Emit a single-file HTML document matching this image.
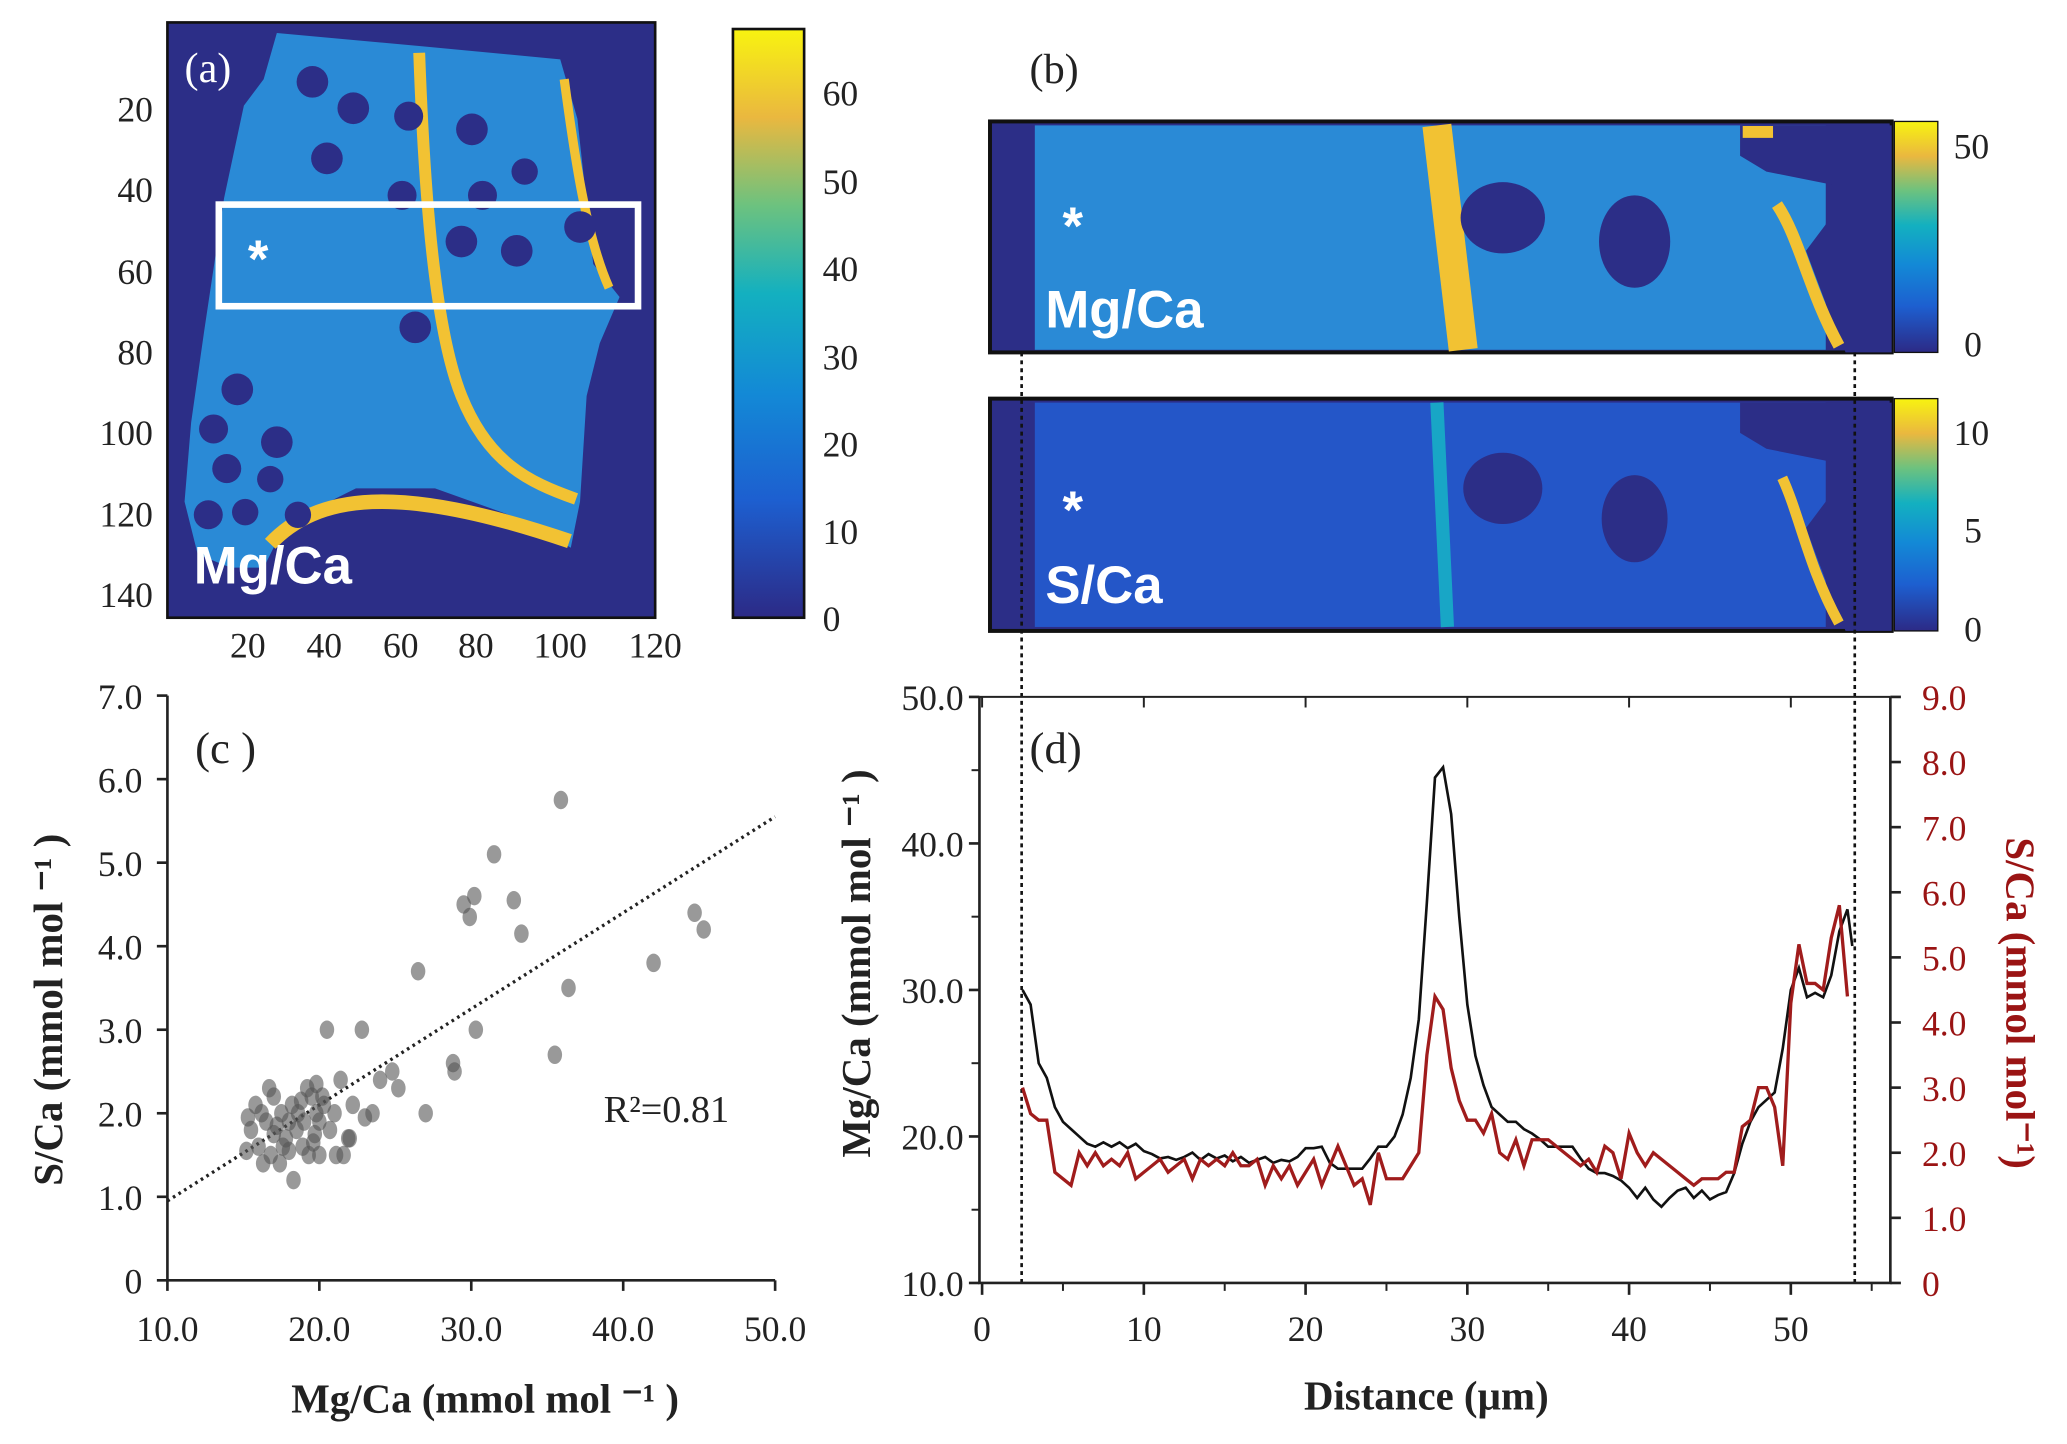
<!DOCTYPE html>
<html><head><meta charset="utf-8"><style>
html,body{margin:0;padding:0;background:#fff;}
svg{display:block;font-family:"Liberation Serif",serif;}
.t{font-size:27px;fill:#222;}
.lab{font-size:31px;font-weight:bold;fill:#222;}
.hm{font-family:"Liberation Sans Narrow","Liberation Sans",sans-serif;font-weight:bold;fill:#fff;font-size:40px;}
</style></head><body>
<svg id="fig" width="2067" height="1444" viewBox="0 0 1568 1094" preserveAspectRatio="none" xmlns="http://www.w3.org/2000/svg">
<defs>
<linearGradient id="parula" x1="0" y1="1" x2="0" y2="0">
<stop offset="0" stop-color="#2c2a86"/><stop offset="0.2" stop-color="#1d5fd0"/><stop offset="0.38" stop-color="#1389d6"/><stop offset="0.55" stop-color="#13b0c0"/><stop offset="0.7" stop-color="#6cc27f"/><stop offset="0.85" stop-color="#eab83f"/><stop offset="1" stop-color="#f8f310"/>
</linearGradient>
</defs>

<g>
<rect x="127" y="17" width="370" height="451" fill="#2c2e87" stroke="#111" stroke-width="2"/>
<polygon fill="#2a8ad6" points="210,25 320,35 425,45 438,90 450,200 470,225 455,260 445,300 440,380 433,415 400,395 330,370 270,370 240,385 215,400 200,430 175,430 150,420 140,380 145,320 155,250 170,150 185,80 200,60"/>
<path d="M318,40 C322,150 330,250 350,300 S400,365 437,378" fill="none" stroke="#f2c233" stroke-width="9"/>
<path d="M428,60 C436,120 445,180 462,218" fill="none" stroke="#f2c233" stroke-width="7"/>
<path d="M205,412 C240,375 300,365 432,410" fill="none" stroke="#f2c233" stroke-width="11"/>
<g fill="#2c2e87">
<circle cx="237" cy="62" r="12"/><circle cx="268" cy="82" r="12"/><circle cx="310" cy="88" r="11"/><circle cx="358" cy="98" r="12"/><circle cx="248" cy="120" r="12"/><circle cx="305" cy="148" r="11"/><circle cx="366" cy="148" r="11"/><circle cx="398" cy="130" r="10"/><circle cx="350" cy="183" r="12"/><circle cx="392" cy="190" r="12"/><circle cx="440" cy="172" r="12"/><circle cx="315" cy="248" r="12"/><circle cx="180" cy="295" r="12"/><circle cx="162" cy="325" r="11"/><circle cx="210" cy="335" r="12"/><circle cx="172" cy="355" r="11"/><circle cx="205" cy="363" r="10"/><circle cx="158" cy="390" r="11"/><circle cx="186" cy="388" r="10"/><circle cx="226" cy="390" r="10"/>
</g>
<rect x="166" y="155" width="318" height="77" fill="none" stroke="#fff" stroke-width="5"/>
<text x="140" y="62" class="t" style="fill:#fff;font-size:32px">(a)</text>
<text x="188" y="210" class="hm" font-size="44">*</text>
<text x="147" y="442" class="hm">Mg/Ca</text>
</g>
<g class="t" text-anchor="end">
<text x="116" y="92">20</text><text x="116" y="153">40</text><text x="116" y="215">60</text><text x="116" y="276">80</text><text x="116" y="337">100</text><text x="116" y="399">120</text><text x="116" y="460">140</text>
</g>
<g class="t" text-anchor="middle">
<text x="188" y="498">20</text><text x="246" y="498">40</text><text x="304" y="498">60</text><text x="361" y="498">80</text><text x="425" y="498">100</text><text x="497" y="498">120</text>
</g>
<g>
<rect x="556" y="22" width="54" height="446" fill="url(#parula)" stroke="#111" stroke-width="2"/>
<g class="t"><text x="624" y="478">0</text><text x="624" y="412">10</text><text x="624" y="346">20</text><text x="624" y="280">30</text><text x="624" y="213">40</text><text x="624" y="147">50</text><text x="624" y="80">60</text></g>
</g>

<text x="781" y="63" class="t" style="font-size:32px">(b)</text>
<g>
<rect x="751" y="92" width="684" height="175" fill="#2c2e87" stroke="#111" stroke-width="3"/>
<rect x="785" y="95" width="600" height="170" fill="#2a8ad6"/>
<path d="M1090,95 L1110,265" stroke="#f2c233" stroke-width="22"/>
<ellipse cx="1140" cy="165" rx="32" ry="27" fill="#2c2e87"/>
<ellipse cx="1240" cy="183" rx="27" ry="35" fill="#2c2e87"/>
<path d="M1320,95 L1435,95 L1435,267 L1400,267 L1385,230 L1370,190 L1385,170 L1390,140 L1340,130 L1320,118 Z" fill="#2c2e87"/>
<path d="M1322,100 L1345,100 M1348,155 C1365,180 1372,220 1395,262" stroke="#f2c233" stroke-width="9" fill="none"/>
<text x="806" y="185" class="hm" font-size="44">*</text>
<text x="793" y="248" class="hm">Mg/Ca</text>
</g>
<g>
<rect x="1437" y="92" width="33" height="175" fill="url(#parula)" stroke="#111" stroke-width="1"/>
<text x="1482" y="120" class="t">50</text><text x="1490" y="270" class="t">0</text>
</g>
<g>
<rect x="751" y="302" width="684" height="176" fill="#2c2e87" stroke="#111" stroke-width="3"/>
<rect x="785" y="305" width="600" height="170" fill="#2456c8"/>
<path d="M1090,305 L1098,475" stroke="#18a6c6" stroke-width="10"/>
<ellipse cx="1140" cy="370" rx="30" ry="27" fill="#2c2e87"/>
<ellipse cx="1240" cy="393" rx="25" ry="33" fill="#2c2e87"/>
<path d="M1320,305 L1435,305 L1435,478 L1400,478 L1385,440 L1370,400 L1385,380 L1390,350 L1340,340 L1320,328 Z" fill="#2c2e87"/>
<path d="M1352,362 C1365,390 1372,430 1395,472" stroke="#f2c233" stroke-width="8" fill="none"/>
<text x="806" y="400" class="hm" font-size="44">*</text>
<text x="793" y="457" class="hm">S/Ca</text>
</g>
<g>
<rect x="1437" y="302" width="33" height="176" fill="url(#parula)" stroke="#111" stroke-width="1"/>
<text x="1482" y="337" class="t">10</text><text x="1490" y="411" class="t">5</text><text x="1490" y="486" class="t">0</text>
</g>
<line x1="775" y1="267" x2="775" y2="972" stroke="#111" stroke-width="2" stroke-dasharray="3,3"/>
<line x1="1407" y1="267" x2="1407" y2="972" stroke="#111" stroke-width="2" stroke-dasharray="3,3"/>

<g id="pc"></g>
<g id="pd"></g>
</svg>
<script>
const scMg=[15.3,15.5,15.8,16,16.2,16.5,16.7,16.8,17,17.2,17.5,17.6,17.8,18,18.2,18.3,18.5,18.6,18.8,19,19.2,19.3,19.5,19.7,19.8,20,20,20.3,20.5,20.7,21,21.1,21.4,21.6,21.9,22.2,22.8,23.5,24,24.8,25.2,26.5,27,28.8,28.9,29.5,29.9,30.2,30.3,31.5,32.8,33.3,35.5,35.9,36.4,42,44.7,45.3,15.2,16.3,17,18,18.9,19.6,20.2,23,22,17.4,19.8];
const scS=[1.95,1.8,2.1,1.6,2.0,1.9,2.3,1.5,1.75,1.85,2.0,1.6,1.7,1.9,2.1,1.2,1.8,2.0,2.15,1.9,2.3,1.5,2.2,1.75,2.0,1.9,1.5,2.1,3.0,1.8,2.0,1.5,2.4,1.5,1.7,2.1,3.0,2.0,2.4,2.5,2.3,3.7,2.0,2.6,2.5,4.5,4.35,4.6,3.0,5.1,4.55,4.15,2.7,5.75,3.5,3.8,4.4,4.2,1.55,1.4,2.2,1.55,1.6,1.65,2.2,1.95,1.7,1.4,2.35];
const trend=[[10,0.95],[50,5.55]];
const cXTicks=[10,20,30,40,50];
const cYTicks=[0,1,2,3,4,5,6,7];

const dist=[2.5,3,3.5,4,4.5,5,5.5,6,6.5,7,7.5,8,8.5,9,9.5,10,10.5,11,11.5,12,12.5,13,13.5,14,14.5,15,15.5,16,16.5,17,17.5,18,18.5,19,19.5,20,20.5,21,21.5,22,22.5,23,23.5,24,24.5,25,25.5,26,26.5,27,27.5,28,28.5,29,29.5,30,30.5,31,31.5,32,32.5,33,33.5,34,34.5,35,35.5,36,36.5,37,37.5,38,38.5,39,39.5,40,40.5,41,41.5,42,42.5,43,43.5,44,44.5,45,45.5,46,46.5,47,47.5,48,48.5,49,49.5,50,50.5,51,51.5,52,52.5,53,53.5,53.8];
const mgProfile=[30,29,25,24,22,21,20.5,20,19.5,19.3,19.6,19.3,19.6,19.2,19.5,19,18.8,18.5,18.6,18.4,18.6,18.9,18.4,18.8,18.5,18.7,18.3,18.6,18.2,18.4,18.6,18.2,18.4,18.3,18.6,19.2,19.2,19.3,18.2,17.8,17.8,17.8,17.8,18.5,19.3,19.3,20,21.5,24,28,36,44.5,45.2,42,35,29,25.5,23.5,22,21.5,21,21,20.5,20.2,19.8,19.3,19.3,19.3,19.3,18.5,17.8,17.5,17.5,17.3,17,16.5,15.8,16.5,15.7,15.2,15.8,16.3,16.5,15.8,16.3,15.7,16,16.2,17.5,19.5,21,22,22.5,23,26,30,31.5,29.5,29.8,29.5,31,34,35.5,33];
const sProfile=[3.0,2.6,2.5,2.5,1.7,1.6,1.5,2.0,1.8,2.0,1.8,1.9,1.8,2.0,1.6,1.7,1.8,1.9,1.7,1.8,1.9,1.6,1.9,1.8,1.9,1.8,2.0,1.8,1.8,1.9,1.5,1.8,1.6,1.8,1.5,1.7,1.9,1.5,1.8,2.1,1.8,1.5,1.6,1.2,2.0,1.6,1.6,1.6,1.8,2.0,3.5,4.4,4.2,3.3,2.8,2.5,2.5,2.3,2.6,2.0,1.9,2.2,1.8,2.2,2.2,2.2,2.1,2.0,1.9,1.8,1.9,1.7,2.1,2.0,1.6,2.3,2.0,1.8,2.0,1.9,1.8,1.7,1.6,1.5,1.6,1.6,1.6,1.7,1.7,2.4,2.5,3.0,3.0,2.7,1.8,4.3,5.2,4.6,4.6,4.5,5.3,5.8,4.4];
const dXTicks=[0,10,20,30,40,50];
const dYLeftTicks=[10,20,30,40,50];
const dYRightTicks=[0,1,2,3,4,5,6,7,8,9];

const NS='http://www.w3.org/2000/svg';
function mk(tag,attrs,parent,txt){const e=document.createElementNS(NS,tag);for(const k in attrs)e.setAttribute(k,attrs[k]);if(txt!==undefined)e.textContent=txt;parent.appendChild(e);return e;}

const pc=document.getElementById('pc');
const cx=v=>127+(v-10)/40*461;
const cy=v=>970-v/7*443;
let ax=mk('path',{d:`M127,${cy(7)} L127,970 L588,970`,fill:'none',stroke:'#222','stroke-width':2},pc);


cXTicks.forEach(v=>{mk('line',{x1:cx(v),y1:970,x2:cx(v),y2:978,stroke:'#222','stroke-width':2},pc);
const t=mk('text',{x:cx(v),y:1016,'text-anchor':'middle',class:'t'},pc,v.toFixed(1));

});
cYTicks.forEach(v=>{mk('line',{x1:119,y1:cy(v),x2:127,y2:cy(v),stroke:'#222','stroke-width':2},pc);
const t=mk('text',{x:108,y:cy(v)+10,'text-anchor':'end',class:'t'},pc,v===0?'0':v.toFixed(1));

});
const tl=mk('line',{x1:cx(trend[0][0]),y1:cy(trend[0][1]),x2:cx(trend[1][0]),y2:cy(trend[1][1]),stroke:'#222','stroke-width':2.5,'stroke-dasharray':'2,3'},pc);


scMg.forEach((m,i)=>{const p=mk('ellipse',{cx:cx(m),cy:cy(scS[i]),rx:5.5,ry:7,fill:'#555','fill-opacity':0.6},pc);

});
let e;
e=mk('text',{x:148,y:578,class:'t',style:'font-size:34px'},pc,'(c )');


e=mk('text',{x:458,y:850,class:'t',style:'font-size:29px'},pc,'R²=0.81');


e=mk('text',{x:368,y:1070,'text-anchor':'middle',class:'lab'},pc,'Mg/Ca (mmol mol ⁻¹ )');


e=mk('text',{x:0,y:0,'text-anchor':'middle',class:'lab',transform:'translate(47,765) rotate(-90)'},pc,'S/Ca (mmol mol ⁻¹ )');



const pd=document.getElementById('pd');
const dx=v=>745+v*12.27;
const dyl=v=>972-(v-10)/40*444;
const dyr=v=>972-v/9*444;
ax=mk('path',{d:`M743,528 L743,972 L1434,972 L1434,528`,fill:'none',stroke:'#222','stroke-width':2},pd);


mk('line',{x1:743,y1:528,x2:1434,y2:528,stroke:'#222','stroke-width':1.5},pd);
dXTicks.forEach(v=>{mk('line',{x1:dx(v),y1:972,x2:dx(v),y2:981,stroke:'#222','stroke-width':2},pd);
mk('line',{x1:dx(v+5),y1:972,x2:dx(v+5),y2:978,stroke:'#222','stroke-width':1.5},pd);
mk('line',{x1:dx(v),y1:528,x2:dx(v),y2:536,stroke:'#222','stroke-width':1.5},pd);
const t=mk('text',{x:dx(v),y:1016,'text-anchor':'middle',class:'t'},pd,String(v));

});
dYLeftTicks.forEach(v=>{mk('line',{x1:735,y1:dyl(v),x2:743,y2:dyl(v),stroke:'#222','stroke-width':2},pd);
if(v<50)mk('line',{x1:737,y1:dyl(v+5),x2:743,y2:dyl(v+5),stroke:'#222','stroke-width':1.5},pd);
const t=mk('text',{x:731,y:dyl(v)+10,'text-anchor':'end',class:'t'},pd,v.toFixed(1));

});
dYRightTicks.forEach(v=>{mk('line',{x1:1434,y1:dyr(v),x2:1442,y2:dyr(v),stroke:'#222','stroke-width':2},pd);
const t=mk('text',{x:1458,y:dyr(v)+10,class:'t',style:'fill:#9a1414'},pd,v===0?'0':v.toFixed(1));

});
const lineBlack=mk('polyline',{points:dist.map((d,i)=>dx(d)+','+dyl(mgProfile[i])).join(' '),fill:'none',stroke:'#111','stroke-width':2},pd);


const lineRed=mk('polyline',{points:dist.map((d,i)=>dx(d)+','+dyr(sProfile[i])).join(' '),fill:'none',stroke:'#a01c1c','stroke-width':2.5},pd);


e=mk('text',{x:781,y:578,class:'t',style:'font-size:34px'},pd,'(d)');


e=mk('text',{x:1082,y:1068,'text-anchor':'middle',class:'lab'},pd,'Distance (µm)');


e=mk('text',{x:0,y:0,'text-anchor':'middle',class:'lab',transform:'translate(660,730) rotate(-90)'},pd,'Mg/Ca (mmol mol ⁻¹ )');


e=mk('text',{x:0,y:0,'text-anchor':'middle',class:'lab',style:'fill:#9a1414',transform:'translate(1522,760) rotate(90)'},pd,'S/Ca (mmol mol⁻¹)');


</script>
</body></html>
